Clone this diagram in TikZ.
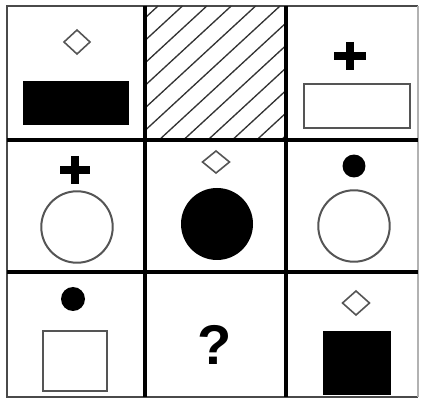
\documentclass[tikz,border=0pt]{standalone}
\usepackage{fontspec}
\setmainfont{Liberation Sans}
\definecolor{edgegray}{HTML}{4A4A4A}
\definecolor{shapegray}{HTML}{555555}
\begin{document}
\begin{tikzpicture}[x=0.75pt,y=-0.75pt,
  gridline/.style={draw=black,line width=2.4pt},
  frameline/.style={draw=edgegray,line width=2pt},
  outline/.style={draw=shapegray,line width=1.5pt},
  thinoutline/.style={draw=shapegray,line width=1.2pt},
  plusmark/.style={draw=black,line width=6pt},
  hatchline/.style={draw=black!80,line width=1pt},
  solid fill/.style={fill=black}]
\useasboundingbox (0,0) rectangle (421,402);
% outer frame
\draw[frameline] (418,6) -- (7,6) -- (7,397) -- (418,397);
\draw[draw=black!30,line width=1pt] (418,6) -- (418,397);
% hatch in cell (1,2)
\begin{scope}
  \clip (145,6) rectangle (286,140);
  \foreach \k in {0,...,11}{
    \pgfmathsetmacro{\xa}{145+24.4*(0.533+\k)}
    \pgfmathsetmacro{\yb}{6+22.5*(0.533+\k)}
    \draw[hatchline] (\xa,6) -- (145,\yb);
  }
\end{scope}
% grid
\draw[gridline] (145,6) -- (145,397);
\draw[gridline] (286,6) -- (286,397);
\draw[gridline] (7,140) -- (418,140);
\draw[gridline] (7,272) -- (418,272);
% cell (1,1)
\draw[thinoutline] (77,30) -- (90,42) -- (77,54) -- (64,42) -- cycle;
\fill[solid fill] (23,81) rectangle (129,125);
% cell (1,3)
\draw[plusmark] (334,56) -- (366,56);
\draw[plusmark] (350,42) -- (350,70);
\draw[outline] (304,84) rectangle (410,128);
% cell (2,1)
\draw[plusmark] (60,170) -- (90,170);
\draw[plusmark] (75,156) -- (75,184);
\draw[outline] (77,227) circle [radius=26.8pt];
% cell (2,2)
\draw[thinoutline] (216,151) -- (229.5,162) -- (216,173) -- (202.5,162) -- cycle;
\fill[solid fill] (217,224) circle [radius=27pt];
% cell (2,3)
\fill[solid fill] (354,166) circle [radius=8.6pt];
\draw[outline] (354,226) circle [radius=26.8pt];
% cell (3,1)
\fill[solid fill] (73,299) circle [radius=9pt];
\draw[outline] (43,331) rectangle (107,391);
% cell (3,2)
\node[inner sep=0pt,font=\fontsize{42pt}{42pt}\selectfont\bfseries] (qmark) at (215,345) {?};
% cell (3,3)
\draw[thinoutline] (356,291) -- (369.5,303) -- (356,315) -- (342.5,303) -- cycle;
\fill[solid fill] (323,331) rectangle (391,395);
\end{tikzpicture}
\end{document}
